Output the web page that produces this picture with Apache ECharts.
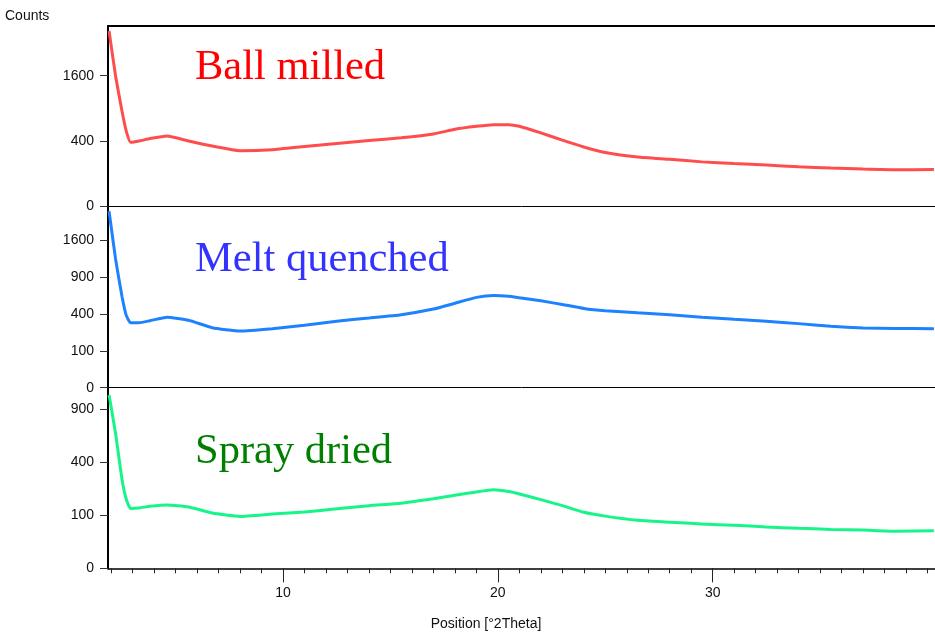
<!DOCTYPE html>
<html>
<head>
<meta charset="utf-8">
<script src="https://cdn.jsdelivr.net/npm/echarts@6/dist/echarts.min.js"></script>
<style>
  html, body { margin: 0; padding: 0; background: #fff; }
  #main { width: 935px; height: 632px; }
</style>
</head>
<body>
<div id="main"></div>
<script>
// positions in degrees 2theta, counts
var twoTheta = [1.9, 2.2, 2.5, 2.7, 2.9, 3.3, 3.8, 4.6, 5.6, 6.7, 8.0, 9.5, 11.0, 12.5, 14.0, 15.5,
    17.0, 18.0, 19.0, 19.8, 20.5, 21.0, 22.0, 23.0, 24.0, 25.0, 26.5, 28.0, 29.5, 31.0, 32.5,
    34.0, 35.5, 37.0, 38.5, 40.3];
var ballMilled = [2880, 1600, 850, 530, 385, 400, 430, 463, 400, 341, 290, 300, 335, 370, 405, 440,
    490, 556, 600, 625, 625, 600, 505, 410, 330, 272, 228, 207, 185, 171, 159,
    147, 137, 130, 125, 127];
var meltQuenched = [2290, 1225, 615, 385, 310, 310, 330, 365, 335, 265, 236, 256, 286, 325, 357, 392,
    455, 525, 600, 625, 615, 595, 555, 510, 462, 435, 412, 392, 366, 345, 325,
    302, 278, 262, 258, 256];
var sprayDried = [1070, 650, 285, 170, 128, 130, 137, 143, 134, 109, 96, 105, 113, 126, 140, 151,
    172, 190, 208, 220, 210, 197, 168, 140, 112, 97, 82, 76, 70, 66, 61,
    57, 54, 52, 49, 50];

// y ticks (counts), axis is square-root scaled
var ticksTop = [0, 400, 1600];
var ticksMid = [0, 100, 400, 900, 1600];
var ticksBot = [0, 100, 400, 900];
var xMajor = [10, 20, 30];
var xMinor = [];
for (var k = 2; k <= 40; k++) xMinor.push(k);

var font = 'Liberation Sans, Arial, sans-serif';
var serif = 'Liberation Serif, Times New Roman, serif';

function toSqrt(vals) {
    return twoTheta.map(function (t, i) { return [t, Math.sqrt(vals[i])]; });
}

function yAxis(idx, max, ticks) {
    var sq = ticks.map(function (v) { return Math.sqrt(v); });
    return {
        type: 'value', gridIndex: idx, min: 0, max: max,
        axisLine: { show: true, lineStyle: { color: '#000', width: 2 } },
        axisTick: { show: true, customValues: sq, length: 8, lineStyle: { color: '#333' } },
        axisLabel: {
            customValues: sq, margin: 14, color: '#111', fontSize: 14, fontFamily: font,
            formatter: function (v) { return Math.round(v * v); }
        },
        splitLine: { show: false }
    };
}

function xAxisPlain(idx, pos, width) {
    return {
        type: 'value', gridIndex: idx, min: 1.85, max: 40.35, position: pos,
        axisLine: { show: true, onZero: false, lineStyle: { color: '#000', width: width } },
        axisTick: { show: false }, axisLabel: { show: false }, splitLine: { show: false }
    };
}

function line(idx, vals, color) {
    return {
        type: 'line', xAxisIndex: idx, yAxisIndex: idx, data: toSqrt(vals),
        symbol: 'none', smooth: 0.15, clip: true,
        lineStyle: { color: color, width: 3 }
    };
}

var chart = echarts.init(document.getElementById('main'));
chart.setOption({
    animation: false,
    grid: [
        { left: 108, right: 0, top: 26, height: 180.3 },
        { left: 108, right: 0, top: 206.3, height: 181.4 },
        { left: 108, right: 0, top: 387.7, height: 180.6 }
    ],
    xAxis: [
        xAxisPlain(0, 'bottom', 1),
        xAxisPlain(1, 'bottom', 1),
        {
            type: 'value', gridIndex: 2, min: 1.85, max: 40.35, position: 'bottom',
            axisLine: { show: true, onZero: false, lineStyle: { color: '#000', width: 1.6 } },
            axisTick: { show: true, customValues: xMajor, length: 14, lineStyle: { color: '#222' } },
            axisLabel: { customValues: xMajor, margin: 18, color: '#111', fontSize: 14, fontFamily: font },
            splitLine: { show: false }
        },
        {
            type: 'value', gridIndex: 2, min: 1.85, max: 40.35, position: 'bottom',
            axisLine: { show: false },
            axisTick: { show: true, customValues: xMinor, length: 5, lineStyle: { color: '#222' } },
            axisLabel: { show: false }, splitLine: { show: false }
        },
        xAxisPlain(0, 'top', 2)
    ],
    yAxis: [
        yAxis(0, 55.2, ticksTop),
        yAxis(1, 49.2, ticksMid),
        yAxis(2, 34.1, ticksBot)
    ],
    series: [
        line(0, ballMilled, '#ff4d4d'),
        line(1, meltQuenched, '#1e82ff'),
        line(2, sprayDried, '#17f58a')
    ],
    graphic: [
        { type: 'text', left: 5, top: 9, style: { text: 'Counts', font: '14px ' + font, fill: '#111' } },
        { type: 'text', x: 486, y: 624, style: { text: 'Position [°2Theta]', font: '14px ' + font, fill: '#111', align: 'center', verticalAlign: 'middle' } },
        { type: 'text', x: 195, y: 68, style: { text: 'Ball milled', font: '42.5px ' + serif, fill: '#ff0000', verticalAlign: 'middle' } },
        { type: 'text', x: 195, y: 260, style: { text: 'Melt quenched', font: '42.5px ' + serif, fill: '#3333ff', verticalAlign: 'middle' } },
        { type: 'text', x: 195, y: 452, style: { text: 'Spray dried', font: '42.5px ' + serif, fill: '#008000', verticalAlign: 'middle' } }
    ]
});
</script>
</body>
</html>
